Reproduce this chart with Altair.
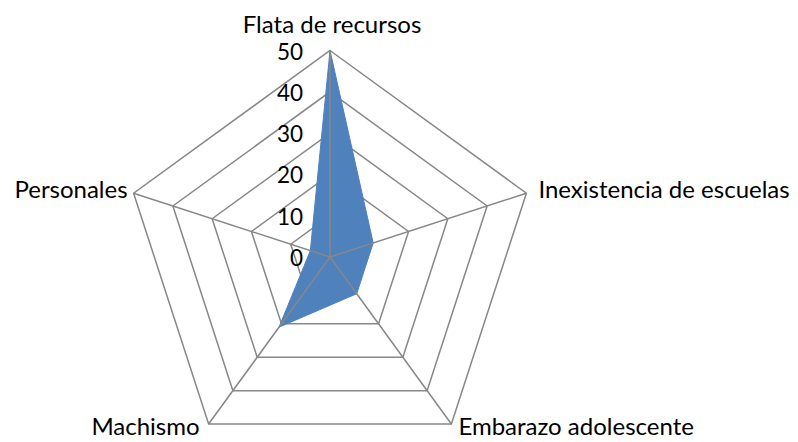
import altair as alt
import pandas as pd

categories = ["Flata de recursos", "Inexistencia de escuelas", "Embarazo adolescente", "Machismo", "Personales"]
values = [50, 11, 11, 21, 5]
levels = [10, 20, 30, 40, 50]
tick_values = [0, 10, 20, 30, 40, 50]
tick_labels = ["0", "10", "20", "30", "40", "50"]
max_value = 50

FONT = "Lato"
FS = 24
FS_TICK = 22.5
GRID = "#878787"
FILL = "#4F81BD"

n = len(categories)
ang = "datum.i * 2 * PI / %d" % n
calc_x = "datum.r * sin(%s)" % ang
calc_y = "datum.r * cos(%s)" % ang

W, H = 782, 434
K = 4.13
xs = alt.Scale(domain=[-322 / K, (W - 322) / K], nice=False, zero=False)
ys = alt.Scale(domain=[(249 - H) / K, 249 / K], nice=False, zero=False)

series_df = pd.DataFrame({"cat": categories, "i": list(range(n)), "r": values})
grid_df = pd.DataFrame([{"level": lv, "i": i, "r": lv} for lv in levels for i in range(n)])
spoke_df = pd.DataFrame({"cat": categories, "i": list(range(n)), "r": [max_value] * n})
tick_df = pd.DataFrame({"lab": tick_labels, "i": [0] * len(tick_values), "r": tick_values})

def X(field="x"):
    return alt.X(field + ":Q", scale=xs, axis=None)

def Y(field="y"):
    return alt.Y(field + ":Q", scale=ys, axis=None)

rings = alt.Chart(grid_df).transform_calculate(x=calc_x, y=calc_y).mark_line(
    interpolate="linear-closed", stroke=GRID, strokeWidth=1.5
).encode(x=X(), y=Y(), detail="level:N", order="i:Q")

poly = alt.Chart(series_df).transform_calculate(x=calc_x, y=calc_y).mark_line(
    interpolate="linear-closed", fill=FILL, stroke=FILL, strokeWidth=1, filled=True
).encode(x=X(), y=Y(), order="i:Q")

spokes = alt.Chart(spoke_df).transform_calculate(x=calc_x, y=calc_y, x0="0", y0="0").mark_rule(
    stroke=GRID, strokeWidth=1.5
).encode(x=X("x0"), y=Y("y0"), x2="x:Q", y2="y:Q")

ticks = alt.Chart(tick_df).transform_calculate(x=calc_x, y=calc_y).mark_text(
    align="right", baseline="alphabetic", dx=-27, dy=9, font=FONT, fontSize=FS_TICK, color="#000000"
).encode(x=X(), y=Y(), text="lab:N")

base_lab = alt.Chart(spoke_df).transform_calculate(x=calc_x, y=calc_y)

lab_top = base_lab.transform_filter("datum.i == 0").mark_text(
    align="center", baseline="alphabetic", dx=2, dy=-18, font=FONT, fontSize=FS, color="#000000"
).encode(x=X(), y=Y(), text="cat:N")

lab_r1 = base_lab.transform_filter("datum.i == 1").mark_text(
    align="left", baseline="alphabetic", dx=12, dy=5, font=FONT, fontSize=FS, color="#000000"
).encode(x=X(), y=Y(), text="cat:N")

lab_r2 = base_lab.transform_filter("datum.i == 2").mark_text(
    align="left", baseline="alphabetic", dx=7, dy=11, font=FONT, fontSize=FS, color="#000000"
).encode(x=X(), y=Y(), text="cat:N")

lab_l3 = base_lab.transform_filter("datum.i == 3").mark_text(
    align="right", baseline="alphabetic", dx=-9, dy=11, font=FONT, fontSize=FS, color="#000000"
).encode(x=X(), y=Y(), text="cat:N")

lab_l4 = base_lab.transform_filter("datum.i == 4").mark_text(
    align="right", baseline="alphabetic", dx=-6, dy=5, font=FONT, fontSize=FS, color="#000000"
).encode(x=X(), y=Y(), text="cat:N")

chart = alt.layer(rings, poly, spokes, ticks, lab_top, lab_r1, lab_r2, lab_l3, lab_l4).properties(
    width=W, height=H, autosize=alt.AutoSizeParams(type="none"), padding=0, background="white"
).configure_view(stroke=None)

chart.save("out.html", embed_options={"renderer": "svg", "actions": False})
